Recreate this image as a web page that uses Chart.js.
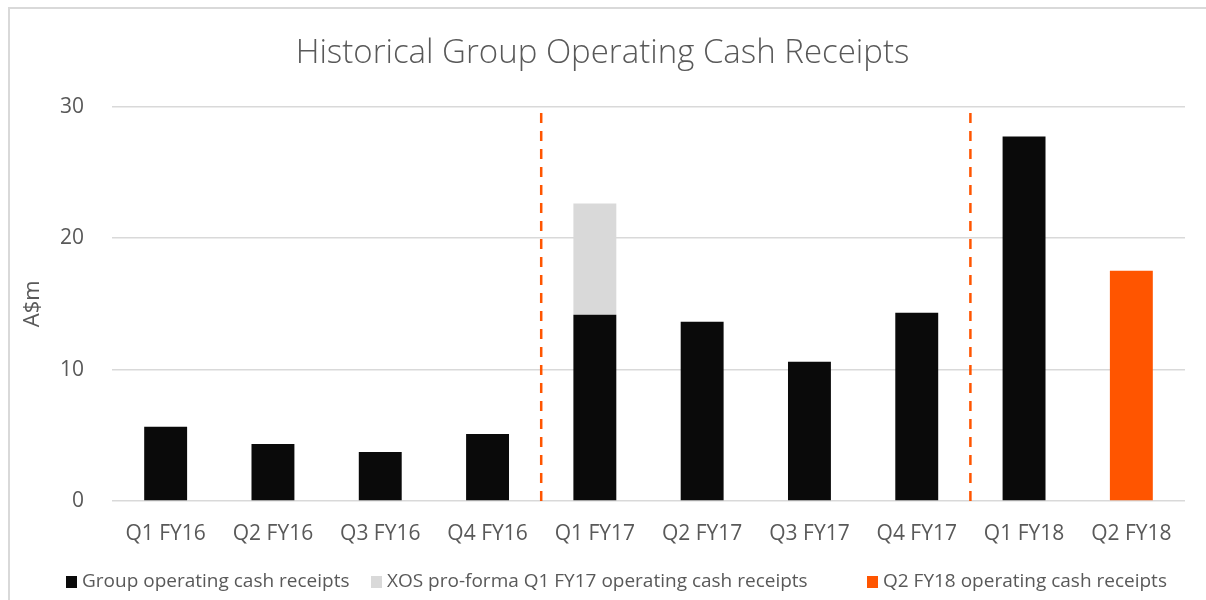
<!DOCTYPE html>
<html>
<head>
<meta charset="utf-8">
<script src="https://cdn.jsdelivr.net/npm/chart.js@4.4.1/dist/chart.umd.min.js"></script>
<style>
  html, body { margin: 0; padding: 0; background: #fff; }
  #wrap { position: relative; width: 1206px; height: 600px; overflow: hidden; }
  #frame { position: absolute; left: 8px; top: 7px; width: 1200px; height: 620px;
           border-left: 2px solid #D9D9D9; border-top: 2px solid #D9D9D9; }
  canvas { position: absolute; left: 0; top: 0; }
</style>
</head>
<body>
<div id="wrap">
  <div id="frame"></div>
  <canvas id="barChart" width="1206" height="600"></canvas>
</div>
<script>
const quarters = ["Q1 FY16", "Q2 FY16", "Q3 FY16", "Q4 FY16", "Q1 FY17",
                  "Q2 FY17", "Q3 FY17", "Q4 FY17", "Q1 FY18", "Q2 FY18"];

const groupReceipts = [5.64, 4.34, 3.73, 5.10, 14.17, 13.63, 10.59, 14.32, 27.72, null];
const xosProForma = [null, null, null, null, 8.45, null, null, null, null, null];
const q2fy18Receipts = [null, null, null, null, null, null, null, null, null, 17.52];

const yTicks = [0, 10, 20, 30];

// dashed dividers go after these quarters
const dividersAfter = ["Q4 FY16", "Q4 FY17"];

const textColor = "#595959";
const fontFamily = "'Open Sans', sans-serif";

// legend item left edges, and the row centre
const legendX = [66, 371, 867];
const legendY = 582;

const dividerPlugin = {
  id: "dividers",
  afterDatasetsDraw(chart) {
    const { ctx, chartArea, scales } = chart;
    ctx.save();
    ctx.strokeStyle = "#FF5500";
    ctx.lineWidth = 2.5;
    ctx.setLineDash([10, 8]);
    dividersAfter.forEach((q) => {
      const i = quarters.indexOf(q);
      const x = (scales.x.getPixelForTick(i) + scales.x.getPixelForTick(i + 1)) / 2;
      ctx.beginPath();
      ctx.moveTo(x, chartArea.bottom);
      ctx.lineTo(x, chartArea.top);
      ctx.stroke();
    });
    ctx.restore();
  },
};

// bottom legend drawn by hand so the gaps between entries match
const legendPlugin = {
  id: "bottomLegend",
  afterDraw(chart) {
    const { ctx } = chart;
    ctx.save();
    ctx.font = "19px " + fontFamily;
    ctx.textBaseline = "middle";
    ctx.textAlign = "left";
    chart.data.datasets.forEach((ds, i) => {
      const x = legendX[i];
      ctx.fillStyle = ds.backgroundColor;
      ctx.fillRect(x, legendY - 6, 11, 12);
      ctx.fillStyle = textColor;
      ctx.fillText(ds.label, x + 16, legendY);
    });
    ctx.restore();
  },
};

const config = {
  type: "bar",
  data: {
    labels: quarters,
    datasets: [
      {
        label: "Group operating cash receipts",
        data: groupReceipts,
        backgroundColor: "#0A0A0A",
      },
      {
        label: "XOS pro-forma Q1 FY17 operating cash receipts",
        data: xosProForma,
        backgroundColor: "#D9D9D9",
      },
      {
        label: "Q2 FY18 operating cash receipts",
        data: q2fy18Receipts,
        backgroundColor: "#FF5500",
      },
    ],
  },
  options: {
    responsive: false,
    animation: false,
    layout: {
      padding: { left: 20, right: 21, top: 34, bottom: 54 },
    },
    datasets: {
      bar: { barPercentage: 0.4, categoryPercentage: 1.0 },
    },
    plugins: {
      title: {
        display: true,
        text: "Historical Group Operating Cash Receipts",
        color: textColor,
        font: { family: fontFamily, size: 33, weight: "300" },
        padding: { top: 0, bottom: 33 },
      },
      legend: { display: false },
      tooltip: { enabled: false },
    },
    scales: {
      x: {
        stacked: true,
        grid: { display: false },
        border: { display: false },
        ticks: {
          color: textColor,
          font: { family: fontFamily, size: 21 },
          padding: 12,
          maxRotation: 0,
        },
        afterFit(scale) {
          scale.height = 45;
        },
      },
      y: {
        stacked: true,
        min: 0,
        max: 30,
        afterBuildTicks(axis) {
          axis.ticks = yTicks.map((v) => ({ value: v }));
        },
        grid: { color: "#D9D9D9", lineWidth: 1.5, drawTicks: false },
        border: { display: false },
        ticks: {
          color: textColor,
          font: { family: fontFamily, size: 21 },
          padding: 28,
        },
        title: {
          display: true,
          text: "A$m",
          color: textColor,
          font: { family: fontFamily, size: 22 },
          padding: { top: 0, bottom: 0 },
        },
        afterFit(scale) {
          scale.width = 92;
        },
      },
    },
  },
  plugins: [dividerPlugin, legendPlugin],
};

new Chart(document.getElementById("barChart"), config);
</script>
</body>
</html>
